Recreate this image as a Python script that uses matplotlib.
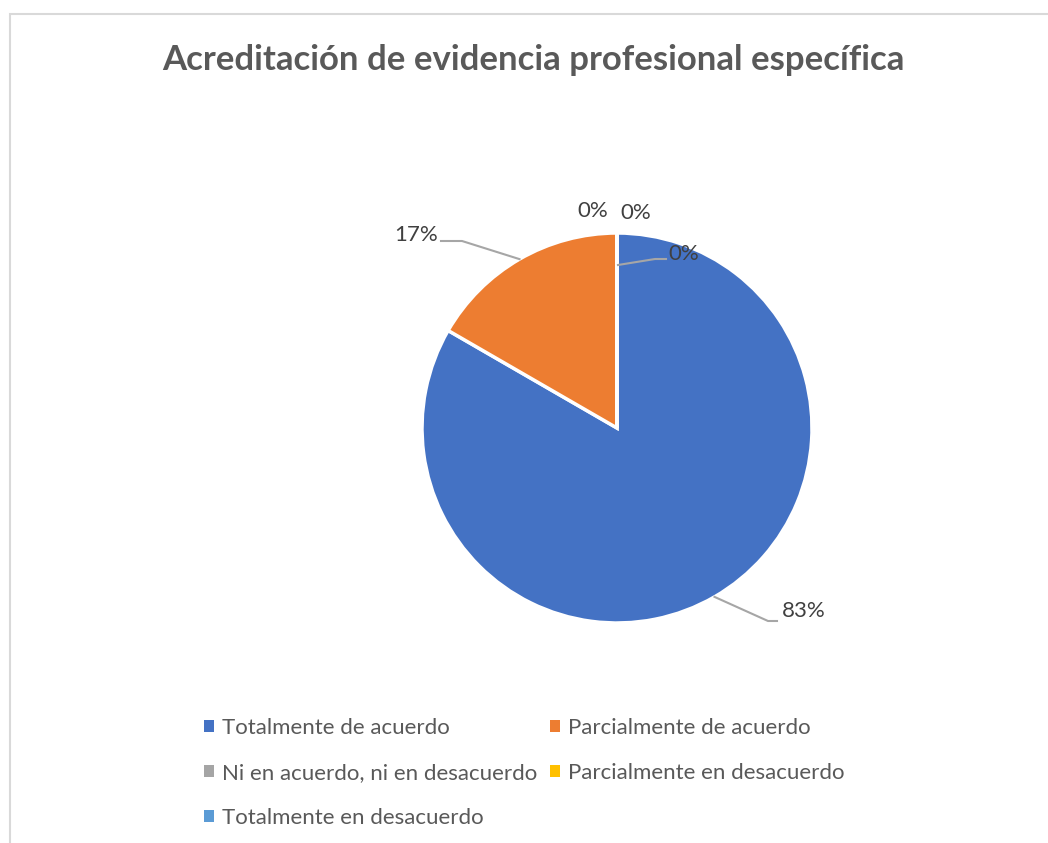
import numpy as np
import matplotlib
matplotlib.use("Agg")
import matplotlib.pyplot as plt
from matplotlib.patches import Rectangle, Patch

categories = ["Totalmente de acuerdo", "Parcialmente de acuerdo",
              "Ni en acuerdo, ni en desacuerdo", "Parcialmente en desacuerdo",
              "Totalmente en desacuerdo"]
counts = [5, 1, 0, 0, 0]
labels = ["83%", "17%", "0%", "0%", "0%"]
colors = ["#4472C4", "#ED7D31", "#A5A5A5", "#FFC000", "#5B9BD5"]

W, H = 1048, 843
plt.rcParams['font.family'] = ['Lato', 'DejaVu Sans']
fig = plt.figure(figsize=(W / 100, H / 100), dpi=100)
ax = fig.add_axes([0, 0, 1, 1])


def Y(y):
    # pixel row (from top) -> data y (from bottom)
    return H - y


cx, cy, r = 617, Y(428), 195
wedges, _ = ax.pie(counts, colors=colors, startangle=90, counterclock=False,
                   center=(cx, cy), radius=r, frame=True,
                   wedgeprops=dict(edgecolor='white', linewidth=2.5))
ax.set_xlim(0, W)
ax.set_ylim(0, H)
ax.set_aspect('equal')
ax.axis('off')

# chart border (cut off at right and bottom)
ax.add_patch(Rectangle((9.5, -50), 1100, Y(13.5) + 50, fill=False, ec='#D9D9D9', lw=1.5))

ax.text(533, Y(60), "Acreditación de evidencia profesional específica", ha='center', va='center',
        fontsize=25, fontweight='bold', color='#595959')

lc = '#A6A6A6'
lab_color = '#404040'
fs = 16


def mid_point(w):
    a = np.deg2rad((w.theta1 + w.theta2) / 2)
    return cx + r * np.cos(a), cy + r * np.sin(a)


# 83%
x0, y0 = mid_point(wedges[0])
ax.plot([x0, 768, 777], [y0, Y(621), Y(621)], color=lc, lw=1.5)
ax.text(782, Y(611), labels[0], ha='left', va='center', fontsize=fs, color=lab_color)
# 17%
x1, y1 = mid_point(wedges[1])
ax.plot([x1, 462, 441], [y1, Y(241), Y(241)], color=lc, lw=1.5)
ax.text(438, Y(235), labels[1], ha='right', va='center', fontsize=fs, color=lab_color)
# zero slices
ax.text(593, Y(211), labels[2], ha='center', va='center', fontsize=fs, color=lab_color)
ax.text(636, Y(213), labels[3], ha='center', va='center', fontsize=fs, color=lab_color)
ax.plot([618, 655, 666], [Y(265), Y(259), Y(259)], color=lc, lw=1.5)
ax.text(668, Y(254), labels[4], ha='left', va='center', fontsize=fs, color=lab_color)

handles = [Patch(facecolor=c, edgecolor='none', label=l) for c, l in zip(colors, categories)]
order = [0, 2, 4, 1, 3]
leg = fig.legend([handles[i] for i in order], [categories[i] for i in order],
                 ncol=2, loc='upper left', bbox_to_anchor=(193 / W, 1 - 707 / H),
                 frameon=False, fontsize=fs, handlelength=0.45, handleheight=0.45,
                 handletextpad=0.35, columnspacing=0.6, labelspacing=1.12, borderpad=0)
for t in leg.get_texts():
    t.set_color('#595959')

fig.savefig("out.png", dpi=100, facecolor='white')
